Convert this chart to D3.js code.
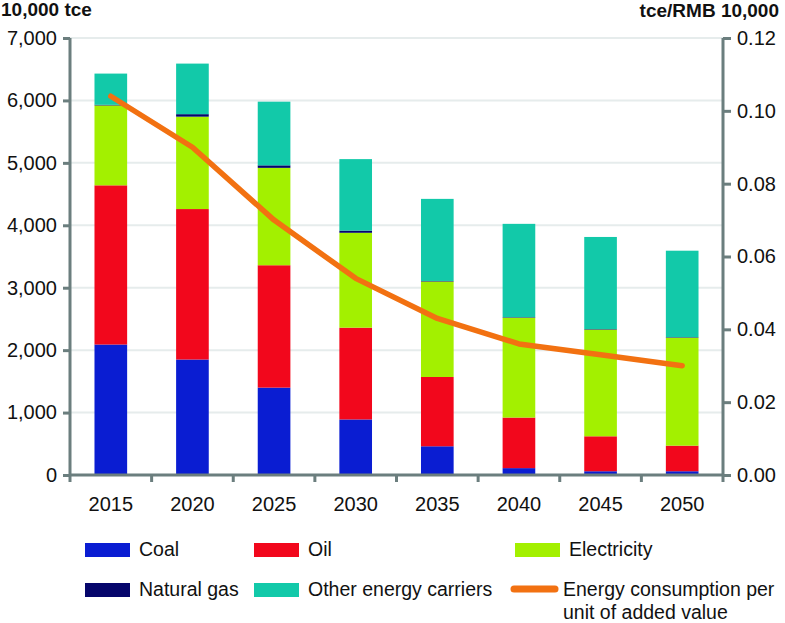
<!DOCTYPE html>
<html>
<head>
<meta charset="utf-8">
<script src="https://cdn.jsdelivr.net/npm/d3@7"></script>
<style>
  body { margin: 0; background: #fff; }
  svg text { font-family: "Liberation Sans", Arial, sans-serif; fill: #111; }
</style>
</head>
<body>
<div class="chart"></div>
<script>
// years on the x axis
var years = ["2015", "2020", "2025", "2030", "2035", "2040", "2045", "2050"];

// final energy use per carrier, 10,000 tce
var coal = [2090, 1850, 1400, 890, 460, 110, 60, 60];
var oil = [2550, 2410, 1960, 1470, 1110, 810, 560, 410];
var electricity = [1280, 1480, 1560, 1520, 1530, 1600, 1710, 1730];
var naturalGas = [10, 40, 40, 35, 8, 8, 8, 8];
var otherCarriers = [500, 810, 1020, 1145, 1315, 1495, 1475, 1385];

// energy consumption per unit of added value, tce/RMB 10,000
var intensity = [0.104, 0.090, 0.070, 0.054, 0.043, 0.036, 0.033, 0.030];

var leftTicks = [0, 1000, 2000, 3000, 4000, 5000, 6000, 7000];
var rightTicks = [0, 0.02, 0.04, 0.06, 0.08, 0.10, 0.12];

var seriesKeys = ["coal", "oil", "electricity", "gas", "other"];
var seriesNames = {coal: "Coal", oil: "Oil", electricity: "Electricity",
                   gas: "Natural gas", other: "Other energy carriers"};
var colors = {coal: "#0a1dd2", oil: "#f2071c", electricity: "#a3f000",
              gas: "#05056b", other: "#12c9a9"};
var lineColor = "#f27111";
var axisColor = "#6b7e7e";

// build rows for the stack
var rows = years.map(function(y, i) {
    return {year: y, coal: coal[i], oil: oil[i], electricity: electricity[i],
            gas: naturalGas[i], other: otherCarriers[i]};
});

var width = 785, height = 623;
var plot = {left: 70, right: 723, top: 38, bottom: 475};

var svg = d3.select(".chart").append("svg")
            .attr("width", width)
            .attr("height", height);

// scales
var xScale = d3.scaleBand()
               .domain(years)
               .range([plot.left, plot.right])
               .paddingInner(0.6)
               .paddingOuter(0.3);

var yLeft = d3.scaleLinear()
              .domain([0, 7000])
              .range([plot.bottom, plot.top]);

var yRight = d3.scaleLinear()
               .domain([0, 0.12])
               .range([plot.bottom, plot.top]);

// gridlines
svg.append("g")
   .selectAll("line")
   .data(leftTicks.slice(1))
   .enter().append("line")
   .attr("x1", plot.left)
   .attr("x2", plot.right)
   .attr("y1", function(d) { return yLeft(d); })
   .attr("y2", function(d) { return yLeft(d); })
   .attr("stroke", "#e6ecec")
   .attr("stroke-width", 2);

// stacked bars
var stacked = d3.stack().keys(seriesKeys)(rows);

svg.append("g")
   .selectAll("g")
   .data(stacked)
   .enter().append("g")
   .attr("fill", function(d) { return colors[d.key]; })
   .selectAll("rect")
   .data(function(d) { return d; })
   .enter().append("rect")
   .attr("x", function(d) { return xScale(d.data.year); })
   .attr("width", xScale.bandwidth())
   .attr("y", function(d) { return yLeft(d[1]); })
   .attr("height", function(d) { return yLeft(d[0]) - yLeft(d[1]); });

// left axis
var leftAxis = svg.append("g")
   .attr("transform", "translate(" + plot.left + ",0)")
   .call(d3.axisLeft(yLeft).tickValues(leftTicks).tickSize(7).tickPadding(6)
           .tickFormat(d3.format(",")));

// right axis
var rightAxis = svg.append("g")
   .attr("transform", "translate(" + plot.right + ",0)")
   .call(d3.axisRight(yRight).tickValues(rightTicks).tickSize(8).tickPadding(6)
           .tickFormat(d3.format(".2f")));

// bottom axis, ticks sit between the bars
var bottomAxis = svg.append("g")
   .attr("transform", "translate(0," + plot.bottom + ")")
   .call(d3.axisBottom(xScale).tickSize(0).tickPadding(22));

var step = xScale.step();
bottomAxis.selectAll(".sep")
   .data(d3.range(years.length + 1))
   .enter().append("line")
   .attr("class", "sep")
   .attr("x1", function(i) { return plot.left + i * step; })
   .attr("x2", function(i) { return plot.left + i * step; })
   .attr("y1", 0)
   .attr("y2", 7);

[leftAxis, rightAxis, bottomAxis].forEach(function(ax) {
    ax.select(".domain").attr("stroke", axisColor).attr("stroke-width", 3);
    ax.selectAll("line").attr("stroke", axisColor).attr("stroke-width", 3);
    ax.selectAll("text")
      .attr("font-size", 20)
      .style("font-family", "'Liberation Sans', Arial, sans-serif")
      .attr("fill", "#111");
});
leftAxis.select(".domain").attr("d", "M0," + plot.top + "V" + plot.bottom);
rightAxis.select(".domain").attr("d", "M0," + plot.top + "V" + plot.bottom);
bottomAxis.select(".domain").attr("d", "M" + plot.left + ",0H" + plot.right);

// intensity line
var line = d3.line()
             .x(function(d, i) { return xScale(years[i]) + xScale.bandwidth() / 2; })
             .y(function(d) { return yRight(d); });

svg.append("path")
   .datum(intensity)
   .attr("d", line)
   .attr("fill", "none")
   .attr("stroke", lineColor)
   .attr("stroke-width", 5.5)
   .attr("stroke-linecap", "round")
   .attr("stroke-linejoin", "round");

// axis titles
svg.append("text")
   .attr("x", 1)
   .attr("y", 16)
   .attr("font-size", 19)
   .attr("font-weight", "bold")
   .text("10,000 tce");

svg.append("text")
   .attr("x", 779)
   .attr("y", 17)
   .attr("text-anchor", "end")
   .attr("font-size", 19)
   .attr("font-weight", "bold")
   .text("tce/RMB 10,000");

// legend
var legendItems = [
    {key: "coal", x: 85, y: 543},
    {key: "oil", x: 254, y: 543},
    {key: "electricity", x: 515, y: 543},
    {key: "gas", x: 85, y: 583},
    {key: "other", x: 254, y: 583}
];

var legend = svg.append("g");

legend.selectAll("rect")
      .data(legendItems)
      .enter().append("rect")
      .attr("x", function(d) { return d.x; })
      .attr("y", function(d) { return d.y; })
      .attr("width", 45)
      .attr("height", 14)
      .attr("fill", function(d) { return colors[d.key]; });

legend.selectAll("text")
      .data(legendItems)
      .enter().append("text")
      .attr("x", function(d) { return d.x + 54; })
      .attr("y", function(d) { return d.y + 13; })
      .attr("font-size", 19.5)
      .text(function(d) { return seriesNames[d.key]; });

legend.append("line")
      .attr("x1", 514)
      .attr("x2", 555)
      .attr("y1", 589)
      .attr("y2", 589)
      .attr("stroke", lineColor)
      .attr("stroke-width", 7)
      .attr("stroke-linecap", "round");

var lineLabel = legend.append("text")
      .attr("x", 563)
      .attr("y", 596)
      .attr("font-size", 19.5);
lineLabel.append("tspan").attr("x", 563).text("Energy consumption per");
lineLabel.append("tspan").attr("x", 563).attr("dy", 23).text("unit of added value");
</script>
</body>
</html>
